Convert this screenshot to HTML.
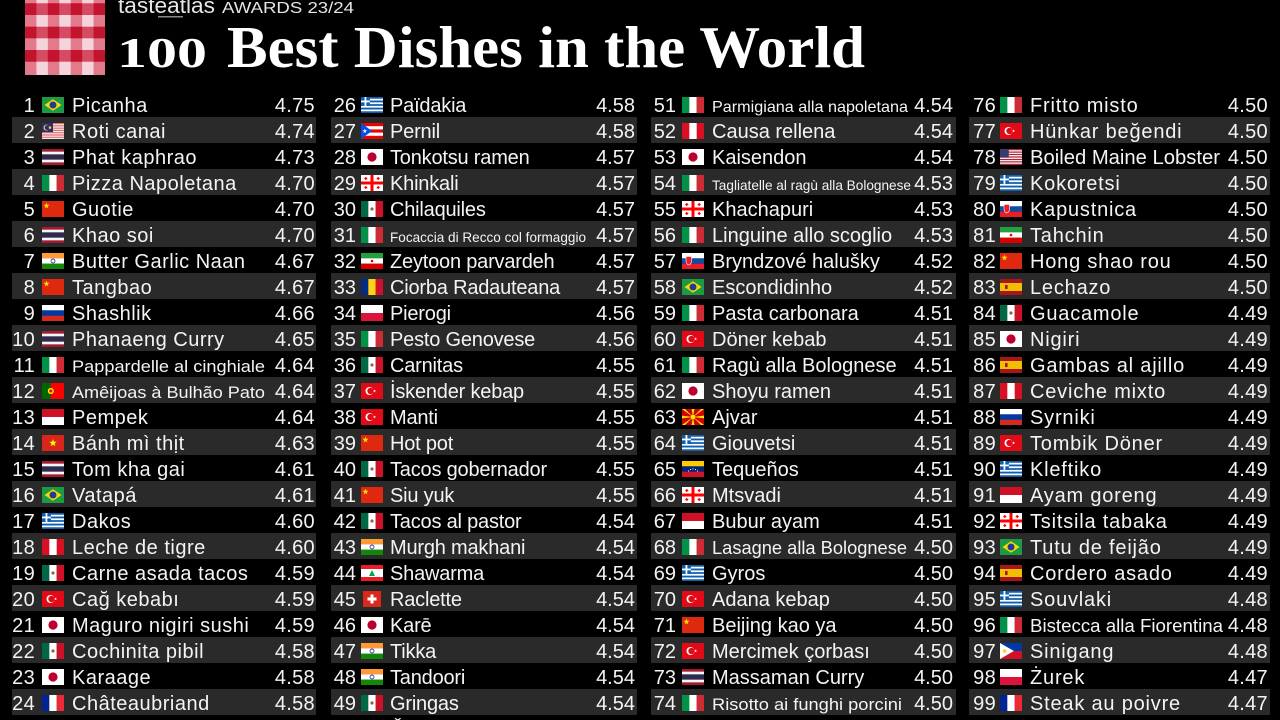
<!DOCTYPE html>
<html><head><meta charset="utf-8"><style>
html,body{margin:0;padding:0;background:#000;}
svg{display:block}
text{font-family:"Liberation Sans",sans-serif;font-size:20px;fill:#f4f4f4}
.k{text-anchor:end}
.b{fill:#2a2a2a}
.c1 .n{letter-spacing:0.5px}
.c2 .n{letter-spacing:-0.2px}
.c4 .n{letter-spacing:0.8px}
.c1 .k,.c4 .k{letter-spacing:0.3px}
.fit{letter-spacing:0 !important}
</style></head><body>
<svg width="1280" height="720" viewBox="0 0 1280 720" xmlns="http://www.w3.org/2000/svg">
<defs>
<path id="star" d="M11 4L11.94 6.71 14.8 6.76 12.52 8.49 13.35 11.24 11 9.6 8.65 11.24 9.48 8.49 7.2 6.76 10.06 6.71z"/>
<symbol id="br" viewBox="0 0 22 16"><rect width="22" height="16" fill="#1e9a45"/><path d="M2.5 8 11 2.2 19.5 8 11 13.8z" fill="#f7d90a"/><circle cx="11" cy="8" r="3.5" fill="#233c8f"/></symbol>
<symbol id="my" viewBox="0 0 22 16"><rect width="22" height="16" fill="#f6eaea"/><path d="M0 0h22v1.14H0zM0 2.29h22v1.14H0zM0 4.57h22v1.14H0zM0 6.86h22v1.14H0zM0 9.14h22v1.14H0zM0 11.43h22v1.14H0zM0 13.71h22v1.14H0z" fill="#e07070"/><rect width="11" height="9.14" fill="#2a2a7a"/><circle cx="4.5" cy="4.57" r="3" fill="#fc0"/><circle cx="5.3" cy="4.57" r="2.5" fill="#2a2a7a"/><circle cx="8" cy="4.57" r="1.3" fill="#fc0"/></symbol>
<symbol id="th" viewBox="0 0 22 16"><rect width="22" height="16" fill="#a51931"/><rect y="2.67" width="22" height="10.67" fill="#f4f5f8"/><rect y="5.33" width="22" height="5.33" fill="#2d2a4a"/></symbol>
<symbol id="it" viewBox="0 0 22 16"><rect width="7.4" height="16" fill="#009246"/><rect x="7.33" width="7.4" height="16" fill="#fff"/><rect x="14.67" width="7.33" height="16" fill="#ce2b37"/></symbol>
<symbol id="cn" viewBox="0 0 22 16"><rect width="22" height="16" fill="#de2910"/><use href="#star" fill="#ffde00" transform="translate(4.5 4.8) scale(.8) translate(-11 -8)"/></symbol>
<symbol id="in" viewBox="0 0 22 16"><rect width="22" height="5.4" fill="#f93"/><rect y="5.33" width="22" height="5.4" fill="#fff"/><rect y="10.67" width="22" height="5.33" fill="#138808"/><circle cx="11" cy="8" r="2" fill="none" stroke="#008" stroke-width=".7"/></symbol>
<symbol id="ru" viewBox="0 0 22 16"><rect width="22" height="5.4" fill="#fff"/><rect y="5.33" width="22" height="5.4" fill="#0039a6"/><rect y="10.67" width="22" height="5.33" fill="#d52b1e"/></symbol>
<symbol id="pt" viewBox="0 0 22 16"><rect width="22" height="16" fill="#f00"/><rect width="8.8" height="16" fill="#060"/><circle cx="8.8" cy="8" r="3" fill="#ff0"/><circle cx="8.8" cy="8" r="1.6" fill="#f00"/></symbol>
<symbol id="id" viewBox="0 0 22 16"><rect width="22" height="8" fill="#ce1126"/><rect y="8" width="22" height="8" fill="#fff"/></symbol>
<symbol id="vn" viewBox="0 0 22 16"><rect width="22" height="16" fill="#da251d"/><use href="#star" fill="#ff0"/></symbol>
<symbol id="gr" viewBox="0 0 22 16"><rect width="22" height="16" fill="#0d5eaf"/><path d="M0 1.78h22v1.78H0zM0 5.33h22v1.78H0zM0 8.89h22v1.78H0zM0 12.44h22v1.78H0z" fill="#fff"/><rect width="8.89" height="8.89" fill="#0d5eaf"/><rect y="3.56" width="8.89" height="1.78" fill="#fff"/><rect x="3.56" width="1.78" height="8.89" fill="#fff"/></symbol>
<symbol id="pe" viewBox="0 0 22 16"><rect width="22" height="16" fill="#d91023"/><rect x="7.33" width="7.34" height="16" fill="#fff"/></symbol>
<symbol id="mx" viewBox="0 0 22 16"><rect width="7.4" height="16" fill="#006847"/><rect x="7.33" width="7.4" height="16" fill="#fff"/><rect x="14.67" width="7.33" height="16" fill="#ce1126"/><circle cx="11" cy="8" r="1.6" fill="#8a6a3a"/></symbol>
<symbol id="tr" viewBox="0 0 22 16"><rect width="22" height="16" fill="#e30a17"/><circle cx="8.5" cy="8" r="4" fill="#fff"/><circle cx="9.5" cy="8" r="3.2" fill="#e30a17"/><use href="#star" fill="#fff" transform="translate(13.5 8) scale(.4) translate(-11 -8)"/></symbol>
<symbol id="jp" viewBox="0 0 22 16"><rect width="22" height="16" fill="#fff"/><circle cx="11" cy="8" r="4.6" fill="#bc002d"/></symbol>
<symbol id="fr" viewBox="0 0 22 16"><rect width="7.4" height="16" fill="#002395"/><rect x="7.33" width="7.4" height="16" fill="#fff"/><rect x="14.67" width="7.33" height="16" fill="#ed2939"/></symbol>
<symbol id="pr" viewBox="0 0 22 16"><rect width="22" height="16" fill="#ed0000"/><rect y="3.2" width="22" height="3.2" fill="#fff"/><rect y="9.6" width="22" height="3.2" fill="#fff"/><path d="M0 0L11 8 0 16z" fill="#0050f0"/><use href="#star" fill="#fff" transform="translate(3.8 8) scale(.6) translate(-11 -8)"/></symbol>
<symbol id="ge" viewBox="0 0 22 16"><rect width="22" height="16" fill="#fff"/><rect x="9.5" width="3" height="16" fill="#f00"/><rect y="6.5" width="22" height="3" fill="#f00"/><path d="M4.2 2h1.2v3H4.2zM3.3 2.9h3v1.2h-3zM16.6 2h1.2v3h-1.2zM15.7 2.9h3v1.2h-3zM4.2 11h1.2v3H4.2zM3.3 11.9h3v1.2h-3zM16.6 11h1.2v3h-1.2zM15.7 11.9h3v1.2h-3z" fill="#f00"/></symbol>
<symbol id="ir" viewBox="0 0 22 16"><rect width="22" height="5.4" fill="#239f40"/><rect y="5.33" width="22" height="5.4" fill="#fff"/><rect y="10.67" width="22" height="5.33" fill="#da0000"/><circle cx="11" cy="8" r="1.3" fill="#da0000"/></symbol>
<symbol id="ro" viewBox="0 0 22 16"><rect width="7.4" height="16" fill="#002b7f"/><rect x="7.33" width="7.4" height="16" fill="#fcd116"/><rect x="14.67" width="7.33" height="16" fill="#ce1126"/></symbol>
<symbol id="pl" viewBox="0 0 22 16"><rect width="22" height="8" fill="#fff"/><rect y="8" width="22" height="8" fill="#dc143c"/></symbol>
<symbol id="lb" viewBox="0 0 22 16"><rect width="22" height="16" fill="#ed1c24"/><rect y="4" width="22" height="8" fill="#fff"/><path d="M11 5L14 11H8z" fill="#00a651"/></symbol>
<symbol id="ch" viewBox="0 0 22 16"><rect x="2" width="18" height="16" fill="#da291c"/><rect x="9.5" y="3.5" width="3" height="9" fill="#fff"/><rect x="6.5" y="6.5" width="9" height="3" fill="#fff"/></symbol>
<symbol id="sk" viewBox="0 0 22 16"><rect width="22" height="5.4" fill="#fff"/><rect y="5.33" width="22" height="5.4" fill="#0b4ea2"/><rect y="10.67" width="22" height="5.33" fill="#ee1c25"/><path d="M4 3.5h5.5v5c0 2-1.5 3-2.75 3.5C5.5 11.5 4 10.5 4 8.5z" fill="#ee1c25" stroke="#fff" stroke-width=".6"/></symbol>
<symbol id="mk" viewBox="0 0 22 16"><rect width="22" height="16" fill="#d20000"/><path d="M11 8L0 0h3zM11 8L22 0h-3zM11 8L0 16h3zM11 8L22 16h-3zM11 8L9.6 0h2.8zM11 8L9.6 16h2.8zM11 8L0 6.6v2.8zM11 8L22 6.6v2.8z" fill="#ffe600"/><circle cx="11" cy="8" r="2.8" fill="#ffe600" stroke="#d20000" stroke-width=".5"/></symbol>
<symbol id="ve" viewBox="0 0 22 16"><rect width="22" height="5.4" fill="#fc0"/><rect y="5.33" width="22" height="5.4" fill="#00247d"/><rect y="10.67" width="22" height="5.33" fill="#cf142b"/><path d="M6 9.5h1v1H6zM8 8h1v1H8zM10.5 7.4h1v1h-1zM13 8h1v1h-1zM15 9.5h1v1h-1z" fill="#fff"/></symbol>
<symbol id="us" viewBox="0 0 22 16"><rect width="22" height="16" fill="#b22234"/><path d="M0 1.23h22v1.23H0zM0 3.69h22v1.23H0zM0 6.15h22v1.23H0zM0 8.62h22v1.23H0zM0 11.08h22v1.23H0zM0 13.54h22v1.23H0z" fill="#fff"/><rect width="8.8" height="8.62" fill="#3c3b6e"/></symbol>
<symbol id="es" viewBox="0 0 22 16"><rect width="22" height="16" fill="#aa151b"/><rect y="4" width="22" height="8" fill="#f1bf00"/><rect x="5" y="6" width="2.6" height="4" fill="#aa151b"/></symbol>
<symbol id="ph" viewBox="0 0 22 16"><rect width="22" height="8" fill="#0038a8"/><rect y="8" width="22" height="8" fill="#ce1126"/><path d="M0 0L13.9 8 0 16z" fill="#fff"/><circle cx="4.6" cy="8" r="1.7" fill="#fcd116"/></symbol>
</defs>

<rect width="1280" height="720" fill="#000"/>

<!-- logo -->
<g>
<rect x="25" y="0" width="80" height="75" fill="#f4d4da"/>
<g fill="#e27a8c">
<rect x="25" y="0" width="11.43" height="75"/><rect x="47.86" y="0" width="11.43" height="75"/><rect x="70.71" y="0" width="11.43" height="75"/><rect x="93.57" y="0" width="11.43" height="75"/>
</g>
<g fill="#d64a62">
<rect x="25" y="3.3" width="80" height="11.7"/><rect x="25" y="26.7" width="80" height="11.6"/><rect x="25" y="50" width="80" height="11.7"/>
</g>
<g fill="#c3142f">
<rect x="25" y="3.3" width="11.43" height="11.7"/><rect x="47.86" y="3.3" width="11.43" height="11.7"/><rect x="70.71" y="3.3" width="11.43" height="11.7"/><rect x="93.57" y="3.3" width="11.43" height="11.7"/>
<rect x="25" y="26.7" width="11.43" height="11.6"/><rect x="47.86" y="26.7" width="11.43" height="11.6"/><rect x="70.71" y="26.7" width="11.43" height="11.6"/><rect x="93.57" y="26.7" width="11.43" height="11.6"/>
<rect x="25" y="50" width="11.43" height="11.7"/><rect x="47.86" y="50" width="11.43" height="11.7"/><rect x="70.71" y="50" width="11.43" height="11.7"/><rect x="93.57" y="50" width="11.43" height="11.7"/>
</g>
</g>

<!-- header -->
<text x="118" y="13" style="font-size:22px;fill:#e6e6e6" textLength="97" lengthAdjust="spacingAndGlyphs">tasteatlas</text>
<rect x="158" y="16" width="25" height="1.5" fill="#888"/>
<text x="222" y="13" style="font-size:16px;fill:#e6e6e6" textLength="132" lengthAdjust="spacingAndGlyphs">AWARDS 23/24</text>
<text x="117" y="67" style="font-family:'Liberation Serif',serif;font-weight:bold;font-size:42px;fill:#fff" textLength="90" lengthAdjust="spacingAndGlyphs">100</text>
<text x="227" y="67" style="font-family:'Liberation Serif',serif;font-weight:bold;font-size:59px;fill:#fff" textLength="638" lengthAdjust="spacingAndGlyphs">Best Dishes in the World</text>

<!-- column 1 -->
<g class="c1" transform="translate(12,0)">
<g transform="translate(0,91)"><text class="k" x="23" y="21">1</text><use href="#br" x="30" y="6" width="22" height="16"/><text class="n" x="60" y="21">Picanha</text><text class="k" x="303" y="21">4.75</text></g>
<g transform="translate(0,117)"><rect class="b" width="304" height="26"/><text class="k" x="23" y="21">2</text><use href="#my" x="30" y="6" width="22" height="16"/><text class="n" x="60" y="21">Roti canai</text><text class="k" x="303" y="21">4.74</text></g>
<g transform="translate(0,143)"><text class="k" x="23" y="21">3</text><use href="#th" x="30" y="6" width="22" height="16"/><text class="n" x="60" y="21">Phat kaphrao</text><text class="k" x="303" y="21">4.73</text></g>
<g transform="translate(0,169)"><rect class="b" width="304" height="26"/><text class="k" x="23" y="21">4</text><use href="#it" x="30" y="6" width="22" height="16"/><text class="n" x="60" y="21">Pizza Napoletana</text><text class="k" x="303" y="21">4.70</text></g>
<g transform="translate(0,195)"><text class="k" x="23" y="21">5</text><use href="#cn" x="30" y="6" width="22" height="16"/><text class="n" x="60" y="21">Guotie</text><text class="k" x="303" y="21">4.70</text></g>
<g transform="translate(0,221)"><rect class="b" width="304" height="26"/><text class="k" x="23" y="21">6</text><use href="#th" x="30" y="6" width="22" height="16"/><text class="n" x="60" y="21">Khao soi</text><text class="k" x="303" y="21">4.70</text></g>
<g transform="translate(0,247)"><text class="k" x="23" y="21">7</text><use href="#in" x="30" y="6" width="22" height="16"/><text class="n" x="60" y="21">Butter Garlic Naan</text><text class="k" x="303" y="21">4.67</text></g>
<g transform="translate(0,273)"><rect class="b" width="304" height="26"/><text class="k" x="23" y="21">8</text><use href="#cn" x="30" y="6" width="22" height="16"/><text class="n" x="60" y="21">Tangbao</text><text class="k" x="303" y="21">4.67</text></g>
<g transform="translate(0,299)"><text class="k" x="23" y="21">9</text><use href="#ru" x="30" y="6" width="22" height="16"/><text class="n" x="60" y="21">Shashlik</text><text class="k" x="303" y="21">4.66</text></g>
<g transform="translate(0,325)"><rect class="b" width="304" height="26"/><text class="k" x="23" y="21">10</text><use href="#th" x="30" y="6" width="22" height="16"/><text class="n" x="60" y="21">Phanaeng Curry</text><text class="k" x="303" y="21">4.65</text></g>
<g transform="translate(0,351)"><text class="k" x="23" y="21">11</text><use href="#it" x="30" y="6" width="22" height="16"/><text class="n fit" x="60" y="21" style="font-size:17px" textLength="193" lengthAdjust="spacingAndGlyphs">Pappardelle al cinghiale</text><text class="k" x="303" y="21">4.64</text></g>
<g transform="translate(0,377)"><rect class="b" width="304" height="26"/><text class="k" x="23" y="21">12</text><use href="#pt" x="30" y="6" width="22" height="16"/><text class="n fit" x="60" y="21" style="font-size:17px" textLength="193" lengthAdjust="spacingAndGlyphs">Amêijoas à Bulhão Pato</text><text class="k" x="303" y="21">4.64</text></g>
<g transform="translate(0,403)"><text class="k" x="23" y="21">13</text><use href="#id" x="30" y="6" width="22" height="16"/><text class="n" x="60" y="21">Pempek</text><text class="k" x="303" y="21">4.64</text></g>
<g transform="translate(0,429)"><rect class="b" width="304" height="26"/><text class="k" x="23" y="21">14</text><use href="#vn" x="30" y="6" width="22" height="16"/><text class="n" x="60" y="21">Bánh mì thịt</text><text class="k" x="303" y="21">4.63</text></g>
<g transform="translate(0,455)"><text class="k" x="23" y="21">15</text><use href="#th" x="30" y="6" width="22" height="16"/><text class="n" x="60" y="21">Tom kha gai</text><text class="k" x="303" y="21">4.61</text></g>
<g transform="translate(0,481)"><rect class="b" width="304" height="26"/><text class="k" x="23" y="21">16</text><use href="#br" x="30" y="6" width="22" height="16"/><text class="n" x="60" y="21">Vatapá</text><text class="k" x="303" y="21">4.61</text></g>
<g transform="translate(0,507)"><text class="k" x="23" y="21">17</text><use href="#gr" x="30" y="6" width="22" height="16"/><text class="n" x="60" y="21">Dakos</text><text class="k" x="303" y="21">4.60</text></g>
<g transform="translate(0,533)"><rect class="b" width="304" height="26"/><text class="k" x="23" y="21">18</text><use href="#pe" x="30" y="6" width="22" height="16"/><text class="n" x="60" y="21">Leche de tigre</text><text class="k" x="303" y="21">4.60</text></g>
<g transform="translate(0,559)"><text class="k" x="23" y="21">19</text><use href="#mx" x="30" y="6" width="22" height="16"/><text class="n" x="60" y="21">Carne asada tacos</text><text class="k" x="303" y="21">4.59</text></g>
<g transform="translate(0,585)"><rect class="b" width="304" height="26"/><text class="k" x="23" y="21">20</text><use href="#tr" x="30" y="6" width="22" height="16"/><text class="n" x="60" y="21">Cağ kebabı</text><text class="k" x="303" y="21">4.59</text></g>
<g transform="translate(0,611)"><text class="k" x="23" y="21">21</text><use href="#jp" x="30" y="6" width="22" height="16"/><text class="n" x="60" y="21">Maguro nigiri sushi</text><text class="k" x="303" y="21">4.59</text></g>
<g transform="translate(0,637)"><rect class="b" width="304" height="26"/><text class="k" x="23" y="21">22</text><use href="#mx" x="30" y="6" width="22" height="16"/><text class="n" x="60" y="21">Cochinita pibil</text><text class="k" x="303" y="21">4.58</text></g>
<g transform="translate(0,663)"><text class="k" x="23" y="21">23</text><use href="#jp" x="30" y="6" width="22" height="16"/><text class="n" x="60" y="21">Karaage</text><text class="k" x="303" y="21">4.58</text></g>
<g transform="translate(0,689)"><rect class="b" width="304" height="26"/><text class="k" x="23" y="21">24</text><use href="#fr" x="30" y="6" width="22" height="16"/><text class="n" x="60" y="21">Châteaubriand</text><text class="k" x="303" y="21">4.58</text></g>
</g>

<!-- column 2 -->
<g class="c2" transform="translate(331,0)">
<g transform="translate(0,91)"><text class="k" x="25" y="21">26</text><use href="#gr" x="30" y="6" width="22" height="16"/><text class="n" x="59" y="21">Païdakia</text><text class="k" x="304" y="21">4.58</text></g>
<g transform="translate(0,117)"><rect class="b" width="306" height="26"/><text class="k" x="25" y="21">27</text><use href="#pr" x="30" y="6" width="22" height="16"/><text class="n" x="59" y="21">Pernil</text><text class="k" x="304" y="21">4.58</text></g>
<g transform="translate(0,143)"><text class="k" x="25" y="21">28</text><use href="#jp" x="30" y="6" width="22" height="16"/><text class="n" x="59" y="21">Tonkotsu ramen</text><text class="k" x="304" y="21">4.57</text></g>
<g transform="translate(0,169)"><rect class="b" width="306" height="26"/><text class="k" x="25" y="21">29</text><use href="#ge" x="30" y="6" width="22" height="16"/><text class="n" x="59" y="21">Khinkali</text><text class="k" x="304" y="21">4.57</text></g>
<g transform="translate(0,195)"><text class="k" x="25" y="21">30</text><use href="#mx" x="30" y="6" width="22" height="16"/><text class="n" x="59" y="21">Chilaquiles</text><text class="k" x="304" y="21">4.57</text></g>
<g transform="translate(0,221)"><rect class="b" width="306" height="26"/><text class="k" x="25" y="21">31</text><use href="#it" x="30" y="6" width="22" height="16"/><text class="n fit" x="59" y="21" style="font-size:14px" textLength="196" lengthAdjust="spacingAndGlyphs">Focaccia di Recco col formaggio</text><text class="k" x="304" y="21">4.57</text></g>
<g transform="translate(0,247)"><text class="k" x="25" y="21">32</text><use href="#ir" x="30" y="6" width="22" height="16"/><text class="n" x="59" y="21">Zeytoon parvardeh</text><text class="k" x="304" y="21">4.57</text></g>
<g transform="translate(0,273)"><rect class="b" width="306" height="26"/><text class="k" x="25" y="21">33</text><use href="#ro" x="30" y="6" width="22" height="16"/><text class="n" x="59" y="21">Ciorba Radauteana</text><text class="k" x="304" y="21">4.57</text></g>
<g transform="translate(0,299)"><text class="k" x="25" y="21">34</text><use href="#pl" x="30" y="6" width="22" height="16"/><text class="n" x="59" y="21">Pierogi</text><text class="k" x="304" y="21">4.56</text></g>
<g transform="translate(0,325)"><rect class="b" width="306" height="26"/><text class="k" x="25" y="21">35</text><use href="#it" x="30" y="6" width="22" height="16"/><text class="n" x="59" y="21">Pesto Genovese</text><text class="k" x="304" y="21">4.56</text></g>
<g transform="translate(0,351)"><text class="k" x="25" y="21">36</text><use href="#mx" x="30" y="6" width="22" height="16"/><text class="n" x="59" y="21">Carnitas</text><text class="k" x="304" y="21">4.55</text></g>
<g transform="translate(0,377)"><rect class="b" width="306" height="26"/><text class="k" x="25" y="21">37</text><use href="#tr" x="30" y="6" width="22" height="16"/><text class="n" x="59" y="21">İskender kebap</text><text class="k" x="304" y="21">4.55</text></g>
<g transform="translate(0,403)"><text class="k" x="25" y="21">38</text><use href="#tr" x="30" y="6" width="22" height="16"/><text class="n" x="59" y="21">Manti</text><text class="k" x="304" y="21">4.55</text></g>
<g transform="translate(0,429)"><rect class="b" width="306" height="26"/><text class="k" x="25" y="21">39</text><use href="#cn" x="30" y="6" width="22" height="16"/><text class="n" x="59" y="21">Hot pot</text><text class="k" x="304" y="21">4.55</text></g>
<g transform="translate(0,455)"><text class="k" x="25" y="21">40</text><use href="#mx" x="30" y="6" width="22" height="16"/><text class="n" x="59" y="21">Tacos gobernador</text><text class="k" x="304" y="21">4.55</text></g>
<g transform="translate(0,481)"><rect class="b" width="306" height="26"/><text class="k" x="25" y="21">41</text><use href="#cn" x="30" y="6" width="22" height="16"/><text class="n" x="59" y="21">Siu yuk</text><text class="k" x="304" y="21">4.55</text></g>
<g transform="translate(0,507)"><text class="k" x="25" y="21">42</text><use href="#mx" x="30" y="6" width="22" height="16"/><text class="n" x="59" y="21">Tacos al pastor</text><text class="k" x="304" y="21">4.54</text></g>
<g transform="translate(0,533)"><rect class="b" width="306" height="26"/><text class="k" x="25" y="21">43</text><use href="#in" x="30" y="6" width="22" height="16"/><text class="n" x="59" y="21">Murgh makhani</text><text class="k" x="304" y="21">4.54</text></g>
<g transform="translate(0,559)"><text class="k" x="25" y="21">44</text><use href="#lb" x="30" y="6" width="22" height="16"/><text class="n" x="59" y="21">Shawarma</text><text class="k" x="304" y="21">4.54</text></g>
<g transform="translate(0,585)"><rect class="b" width="306" height="26"/><text class="k" x="25" y="21">45</text><use href="#ch" x="30" y="6" width="22" height="16"/><text class="n" x="59" y="21">Raclette</text><text class="k" x="304" y="21">4.54</text></g>
<g transform="translate(0,611)"><text class="k" x="25" y="21">46</text><use href="#jp" x="30" y="6" width="22" height="16"/><text class="n" x="59" y="21">Karē</text><text class="k" x="304" y="21">4.54</text></g>
<g transform="translate(0,637)"><rect class="b" width="306" height="26"/><text class="k" x="25" y="21">47</text><use href="#in" x="30" y="6" width="22" height="16"/><text class="n" x="59" y="21">Tikka</text><text class="k" x="304" y="21">4.54</text></g>
<g transform="translate(0,663)"><text class="k" x="25" y="21">48</text><use href="#in" x="30" y="6" width="22" height="16"/><text class="n" x="59" y="21">Tandoori</text><text class="k" x="304" y="21">4.54</text></g>
<g transform="translate(0,689)"><rect class="b" width="306" height="26"/><text class="k" x="25" y="21">49</text><use href="#mx" x="30" y="6" width="22" height="16"/><text class="n" x="59" y="21">Gringas</text><text class="k" x="304" y="21">4.54</text></g>
<g transform="translate(0,715)"><text class="n" x="59" y="21">Čevapi</text></g>
</g>

<!-- column 3 -->
<g class="c3" transform="translate(651,0)">
<g transform="translate(0,91)"><text class="k" x="25" y="21">51</text><use href="#it" x="31" y="6" width="22" height="16"/><text class="n fit" x="61" y="21" style="font-size:16px" textLength="196" lengthAdjust="spacingAndGlyphs">Parmigiana alla napoletana</text><text class="k" x="302" y="21">4.54</text></g>
<g transform="translate(0,117)"><rect class="b" width="305" height="26"/><text class="k" x="25" y="21">52</text><use href="#pe" x="31" y="6" width="22" height="16"/><text class="n" x="61" y="21">Causa rellena</text><text class="k" x="302" y="21">4.54</text></g>
<g transform="translate(0,143)"><text class="k" x="25" y="21">53</text><use href="#jp" x="31" y="6" width="22" height="16"/><text class="n" x="61" y="21">Kaisendon</text><text class="k" x="302" y="21">4.54</text></g>
<g transform="translate(0,169)"><rect class="b" width="305" height="26"/><text class="k" x="25" y="21">54</text><use href="#it" x="31" y="6" width="22" height="16"/><text class="n fit" x="61" y="21" style="font-size:14px" textLength="199" lengthAdjust="spacingAndGlyphs">Tagliatelle al ragù alla Bolognese</text><text class="k" x="302" y="21">4.53</text></g>
<g transform="translate(0,195)"><text class="k" x="25" y="21">55</text><use href="#ge" x="31" y="6" width="22" height="16"/><text class="n" x="61" y="21">Khachapuri</text><text class="k" x="302" y="21">4.53</text></g>
<g transform="translate(0,221)"><rect class="b" width="305" height="26"/><text class="k" x="25" y="21">56</text><use href="#it" x="31" y="6" width="22" height="16"/><text class="n" x="61" y="21">Linguine allo scoglio</text><text class="k" x="302" y="21">4.53</text></g>
<g transform="translate(0,247)"><text class="k" x="25" y="21">57</text><use href="#sk" x="31" y="6" width="22" height="16"/><text class="n" x="61" y="21">Bryndzové halušky</text><text class="k" x="302" y="21">4.52</text></g>
<g transform="translate(0,273)"><rect class="b" width="305" height="26"/><text class="k" x="25" y="21">58</text><use href="#br" x="31" y="6" width="22" height="16"/><text class="n" x="61" y="21">Escondidinho</text><text class="k" x="302" y="21">4.52</text></g>
<g transform="translate(0,299)"><text class="k" x="25" y="21">59</text><use href="#it" x="31" y="6" width="22" height="16"/><text class="n" x="61" y="21">Pasta carbonara</text><text class="k" x="302" y="21">4.51</text></g>
<g transform="translate(0,325)"><rect class="b" width="305" height="26"/><text class="k" x="25" y="21">60</text><use href="#tr" x="31" y="6" width="22" height="16"/><text class="n" x="61" y="21">Döner kebab</text><text class="k" x="302" y="21">4.51</text></g>
<g transform="translate(0,351)"><text class="k" x="25" y="21">61</text><use href="#it" x="31" y="6" width="22" height="16"/><text class="n" x="61" y="21">Ragù alla Bolognese</text><text class="k" x="302" y="21">4.51</text></g>
<g transform="translate(0,377)"><rect class="b" width="305" height="26"/><text class="k" x="25" y="21">62</text><use href="#jp" x="31" y="6" width="22" height="16"/><text class="n" x="61" y="21">Shoyu ramen</text><text class="k" x="302" y="21">4.51</text></g>
<g transform="translate(0,403)"><text class="k" x="25" y="21">63</text><use href="#mk" x="31" y="6" width="22" height="16"/><text class="n" x="61" y="21">Ajvar</text><text class="k" x="302" y="21">4.51</text></g>
<g transform="translate(0,429)"><rect class="b" width="305" height="26"/><text class="k" x="25" y="21">64</text><use href="#gr" x="31" y="6" width="22" height="16"/><text class="n" x="61" y="21">Giouvetsi</text><text class="k" x="302" y="21">4.51</text></g>
<g transform="translate(0,455)"><text class="k" x="25" y="21">65</text><use href="#ve" x="31" y="6" width="22" height="16"/><text class="n" x="61" y="21">Tequeños</text><text class="k" x="302" y="21">4.51</text></g>
<g transform="translate(0,481)"><rect class="b" width="305" height="26"/><text class="k" x="25" y="21">66</text><use href="#ge" x="31" y="6" width="22" height="16"/><text class="n" x="61" y="21">Mtsvadi</text><text class="k" x="302" y="21">4.51</text></g>
<g transform="translate(0,507)"><text class="k" x="25" y="21">67</text><use href="#id" x="31" y="6" width="22" height="16"/><text class="n" x="61" y="21">Bubur ayam</text><text class="k" x="302" y="21">4.51</text></g>
<g transform="translate(0,533)"><rect class="b" width="305" height="26"/><text class="k" x="25" y="21">68</text><use href="#it" x="31" y="6" width="22" height="16"/><text class="n fit" x="61" y="21" style="font-size:18px" textLength="195" lengthAdjust="spacingAndGlyphs">Lasagne alla Bolognese</text><text class="k" x="302" y="21">4.50</text></g>
<g transform="translate(0,559)"><text class="k" x="25" y="21">69</text><use href="#gr" x="31" y="6" width="22" height="16"/><text class="n" x="61" y="21">Gyros</text><text class="k" x="302" y="21">4.50</text></g>
<g transform="translate(0,585)"><rect class="b" width="305" height="26"/><text class="k" x="25" y="21">70</text><use href="#tr" x="31" y="6" width="22" height="16"/><text class="n" x="61" y="21">Adana kebap</text><text class="k" x="302" y="21">4.50</text></g>
<g transform="translate(0,611)"><text class="k" x="25" y="21">71</text><use href="#cn" x="31" y="6" width="22" height="16"/><text class="n" x="61" y="21">Beijing kao ya</text><text class="k" x="302" y="21">4.50</text></g>
<g transform="translate(0,637)"><rect class="b" width="305" height="26"/><text class="k" x="25" y="21">72</text><use href="#tr" x="31" y="6" width="22" height="16"/><text class="n" x="61" y="21">Mercimek çorbası</text><text class="k" x="302" y="21">4.50</text></g>
<g transform="translate(0,663)"><text class="k" x="25" y="21">73</text><use href="#th" x="31" y="6" width="22" height="16"/><text class="n" x="61" y="21">Massaman Curry</text><text class="k" x="302" y="21">4.50</text></g>
<g transform="translate(0,689)"><rect class="b" width="305" height="26"/><text class="k" x="25" y="21">74</text><use href="#it" x="31" y="6" width="22" height="16"/><text class="n fit" x="61" y="21" style="font-size:17px" textLength="190" lengthAdjust="spacingAndGlyphs">Risotto ai funghi porcini</text><text class="k" x="302" y="21">4.50</text></g>
</g>

<!-- column 4 -->
<g class="c4" transform="translate(969,0)">
<g transform="translate(0,91)"><text class="k" x="27" y="21">76</text><use href="#it" x="31" y="6" width="22" height="16"/><text class="n" x="61" y="21">Fritto misto</text><text class="k" x="299" y="21">4.50</text></g>
<g transform="translate(0,117)"><rect class="b" width="301" height="26"/><text class="k" x="27" y="21">77</text><use href="#tr" x="31" y="6" width="22" height="16"/><text class="n" x="61" y="21">Hünkar beğendi</text><text class="k" x="299" y="21">4.50</text></g>
<g transform="translate(0,143)"><text class="k" x="27" y="21">78</text><use href="#us" x="31" y="6" width="22" height="16"/><text class="n fit" x="61" y="21" textLength="190" lengthAdjust="spacingAndGlyphs">Boiled Maine Lobster</text><text class="k" x="299" y="21">4.50</text></g>
<g transform="translate(0,169)"><rect class="b" width="301" height="26"/><text class="k" x="27" y="21">79</text><use href="#gr" x="31" y="6" width="22" height="16"/><text class="n" x="61" y="21">Kokoretsi</text><text class="k" x="299" y="21">4.50</text></g>
<g transform="translate(0,195)"><text class="k" x="27" y="21">80</text><use href="#sk" x="31" y="6" width="22" height="16"/><text class="n" x="61" y="21">Kapustnica</text><text class="k" x="299" y="21">4.50</text></g>
<g transform="translate(0,221)"><rect class="b" width="301" height="26"/><text class="k" x="27" y="21">81</text><use href="#ir" x="31" y="6" width="22" height="16"/><text class="n" x="61" y="21">Tahchin</text><text class="k" x="299" y="21">4.50</text></g>
<g transform="translate(0,247)"><text class="k" x="27" y="21">82</text><use href="#cn" x="31" y="6" width="22" height="16"/><text class="n" x="61" y="21">Hong shao rou</text><text class="k" x="299" y="21">4.50</text></g>
<g transform="translate(0,273)"><rect class="b" width="301" height="26"/><text class="k" x="27" y="21">83</text><use href="#es" x="31" y="6" width="22" height="16"/><text class="n" x="61" y="21">Lechazo</text><text class="k" x="299" y="21">4.50</text></g>
<g transform="translate(0,299)"><text class="k" x="27" y="21">84</text><use href="#mx" x="31" y="6" width="22" height="16"/><text class="n" x="61" y="21">Guacamole</text><text class="k" x="299" y="21">4.49</text></g>
<g transform="translate(0,325)"><rect class="b" width="301" height="26"/><text class="k" x="27" y="21">85</text><use href="#jp" x="31" y="6" width="22" height="16"/><text class="n" x="61" y="21">Nigiri</text><text class="k" x="299" y="21">4.49</text></g>
<g transform="translate(0,351)"><text class="k" x="27" y="21">86</text><use href="#es" x="31" y="6" width="22" height="16"/><text class="n" x="61" y="21">Gambas al ajillo</text><text class="k" x="299" y="21">4.49</text></g>
<g transform="translate(0,377)"><rect class="b" width="301" height="26"/><text class="k" x="27" y="21">87</text><use href="#pe" x="31" y="6" width="22" height="16"/><text class="n" x="61" y="21">Ceviche mixto</text><text class="k" x="299" y="21">4.49</text></g>
<g transform="translate(0,403)"><text class="k" x="27" y="21">88</text><use href="#ru" x="31" y="6" width="22" height="16"/><text class="n" x="61" y="21">Syrniki</text><text class="k" x="299" y="21">4.49</text></g>
<g transform="translate(0,429)"><rect class="b" width="301" height="26"/><text class="k" x="27" y="21">89</text><use href="#tr" x="31" y="6" width="22" height="16"/><text class="n" x="61" y="21">Tombik Döner</text><text class="k" x="299" y="21">4.49</text></g>
<g transform="translate(0,455)"><text class="k" x="27" y="21">90</text><use href="#gr" x="31" y="6" width="22" height="16"/><text class="n" x="61" y="21">Kleftiko</text><text class="k" x="299" y="21">4.49</text></g>
<g transform="translate(0,481)"><rect class="b" width="301" height="26"/><text class="k" x="27" y="21">91</text><use href="#id" x="31" y="6" width="22" height="16"/><text class="n" x="61" y="21">Ayam goreng</text><text class="k" x="299" y="21">4.49</text></g>
<g transform="translate(0,507)"><text class="k" x="27" y="21">92</text><use href="#ge" x="31" y="6" width="22" height="16"/><text class="n" x="61" y="21">Tsitsila tabaka</text><text class="k" x="299" y="21">4.49</text></g>
<g transform="translate(0,533)"><rect class="b" width="301" height="26"/><text class="k" x="27" y="21">93</text><use href="#br" x="31" y="6" width="22" height="16"/><text class="n" x="61" y="21">Tutu de feijão</text><text class="k" x="299" y="21">4.49</text></g>
<g transform="translate(0,559)"><text class="k" x="27" y="21">94</text><use href="#es" x="31" y="6" width="22" height="16"/><text class="n" x="61" y="21">Cordero asado</text><text class="k" x="299" y="21">4.49</text></g>
<g transform="translate(0,585)"><rect class="b" width="301" height="26"/><text class="k" x="27" y="21">95</text><use href="#gr" x="31" y="6" width="22" height="16"/><text class="n" x="61" y="21">Souvlaki</text><text class="k" x="299" y="21">4.48</text></g>
<g transform="translate(0,611)"><text class="k" x="27" y="21">96</text><use href="#it" x="31" y="6" width="22" height="16"/><text class="n fit" x="61" y="21" style="font-size:18px" textLength="193" lengthAdjust="spacingAndGlyphs">Bistecca alla Fiorentina</text><text class="k" x="299" y="21">4.48</text></g>
<g transform="translate(0,637)"><rect class="b" width="301" height="26"/><text class="k" x="27" y="21">97</text><use href="#ph" x="31" y="6" width="22" height="16"/><text class="n" x="61" y="21">Sinigang</text><text class="k" x="299" y="21">4.48</text></g>
<g transform="translate(0,663)"><text class="k" x="27" y="21">98</text><use href="#pl" x="31" y="6" width="22" height="16"/><text class="n" x="61" y="21">Żurek</text><text class="k" x="299" y="21">4.47</text></g>
<g transform="translate(0,689)"><rect class="b" width="301" height="26"/><text class="k" x="27" y="21">99</text><use href="#fr" x="31" y="6" width="22" height="16"/><text class="n" x="61" y="21">Steak au poivre</text><text class="k" x="299" y="21">4.47</text></g>
</g>
</svg>
</body></html>
